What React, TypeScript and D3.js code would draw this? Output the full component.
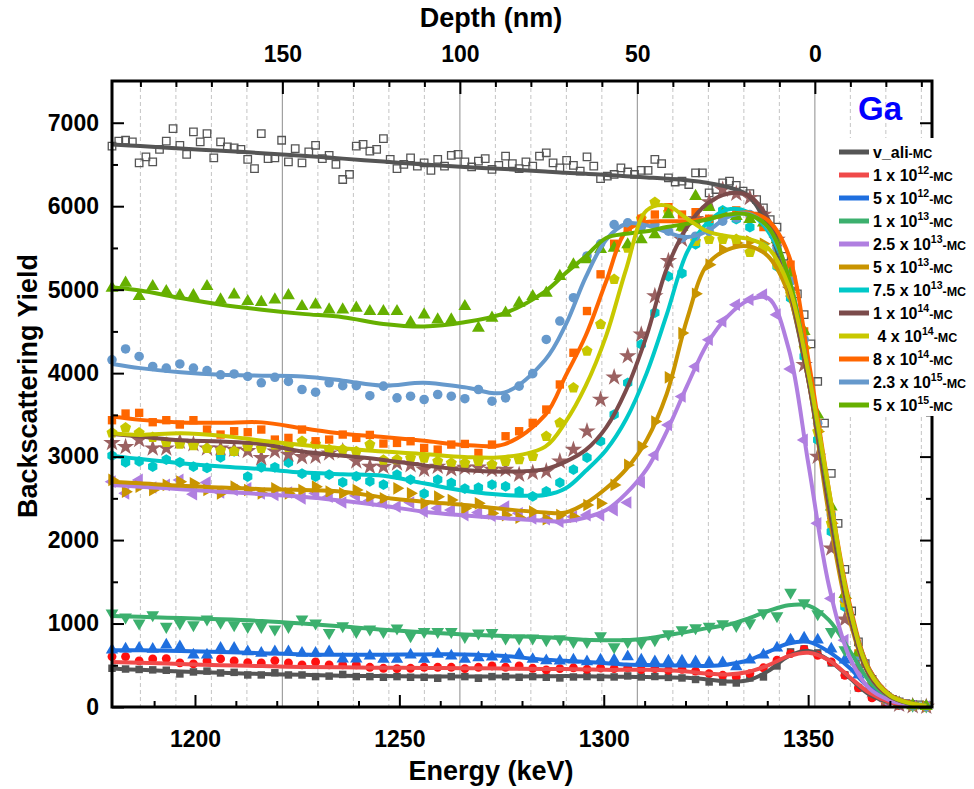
import React, { useEffect, useRef } from 'react';
import * as d3 from 'd3';

// energies (keV) where the MC curves are sampled
const lineEnergy = [1179.7, 1186.6, 1196.5, 1206.5, 1216.4, 1226.3, 1236.2, 1246.1, 1256.0, 1265.9, 1275.8, 1285.7, 1290.7, 1295.6, 1300.6, 1305.5, 1310.5, 1315.4, 1320.4, 1325.3, 1330.3, 1335.3, 1340.2, 1345.2, 1350.1, 1355.1, 1360.1, 1365.0, 1370.0, 1374.9, 1378.9];
// measured channels
const markerEnergy = d3.range(61).map(i => 1179.7 + 3.32 * i);
const randomEnergy = d3.range(121).map(i => 1179.7 + 1.66 * i);

// random spectrum (open squares) and its MC
const randomPoints = [6720, 6780, 6790, 6770, 6520, 6590, 6530, 6680, 6780, 6930, 6730, 6620, 6890, 6770, 6870, 6580, 6770, 6710, 6700, 6680, 6560, 6450, 6870, 6570, 6580, 6790, 6530, 6690, 6520, 6650, 6730, 6570, 6610, 6500, 6320, 6380, 6720, 6740, 6660, 6680, 6810, 6560, 6450,
  6500, 6580, 6480, 6520, 6430, 6560, 6480, 6610, 6620, 6530, 6470, 6540, 6570, 6440, 6490, 6600, 6510, 6450, 6530, 6480, 6600, 6640, 6520, 6460, 6550, 6490, 6420, 6590, 6480, 6330, 6360, 6380, 6460, 6410, 6380, 6430, 6430, 6560, 6510, 6340, 6290, 6300, 6260, 6400, 6400, 6160, 6200, 6280, 6300, 6250, 6180, 6150, 6080, 5980, 5840, 5750, 5400, 5150, 4950, 4700, 4350, 3900, 3400, 2800, 2200, 1650, 1150, 780, 520, 330, 210, 140, 90, 60, 40, 30, 25, 20];
const randomLine = [6740, 6720, 6690, 6665, 6635, 6605, 6570, 6535, 6500, 6470, 6445, 6415, 6400, 6390, 6375, 6360, 6345, 6330, 6310, 6280, 6230, 6130, 5750, 5000, 3900, 2500, 1200, 450, 150, 50, 20];

const alignedPoints = [464, 455, 450, 445, 440, 396, 420, 430, 408, 415, 384, 384, 410, 384, 384, 364, 370, 390, 364, 364, 356, 364, 356, 356, 344, 364, 364, 344, 364, 364, 356, 364, 356, 348, 360, 365, 355, 360, 372, 360, 365, 355, 348, 330, 300, 300, 288, 348, 360, 492, 660, 696, 648, 528, 384, 228, 120, 48, 20, 10, 5];
const alignedLine = [460, 445, 425, 410, 395, 385, 375, 370, 365, 365, 365, 368, 370, 368, 365, 362, 358, 355, 350, 330, 305, 320, 430, 610, 670, 560, 350, 150, 55, 20, 8];

const f1e12Points = [604, 604, 552, 576, 580, 528, 516, 552, 576, 552, 532, 528, 556, 528, 504, 540, 504, 504, 504, 476, 464, 460, 464, 476, 476, 476, 460, 476, 492, 476, 492, 464, 444, 460, 470, 452, 468, 460, 470, 448, 460, 440, 452, 430, 400, 380, 360, 400, 470, 560, 640, 690, 620, 540, 380, 230, 110, 45, 18, 8, 4];
const f1e12Line = [540, 530, 515, 500, 490, 480, 475, 470, 468, 465, 460, 455, 455, 450, 445, 445, 445, 440, 425, 400, 390, 420, 500, 610, 650, 560, 360, 170, 60, 20, 8];

const f5e12Points = [684, 696, 704, 692, 744, 724, 624, 624, 704, 704, 664, 644, 664, 664, 644, 644, 664, 576, 576, 612, 572, 572, 624, 572, 632, 612, 572, 592, 600, 572, 632, 572, 556, 552, 564, 544, 564, 564, 604, 564, 544, 552, 552, 544, 532, 532, 484, 564, 624, 708, 804, 828, 804, 696, 564, 384, 240, 110, 45, 18, 8];
const f5e12Line = [680, 680, 670, 660, 645, 630, 625, 625, 630, 630, 610, 565, 555, 540, 525, 510, 502, 498, 495, 492, 510, 560, 660, 760, 780, 660, 470, 230, 90, 30, 10];

const f1e13Points = [1124, 1076, 1004, 1104, 964, 1004, 984, 1052, 1012, 984, 964, 964, 932, 964, 1052, 1004, 892, 972, 904, 932, 904, 944, 852, 904, 904, 904, 844, 884, 892, 824, 824, 824, 804, 816, 784, 784, 852, 720, 784, 772, 804, 876, 924, 948, 964, 996, 976, 1008, 1128, 1092, 1372, 1248, 1116, 904, 684, 408, 288, 130, 50, 20, 10];
const f1e13Line = [1090, 1080, 1065, 1050, 1030, 1000, 965, 925, 895, 870, 850, 835, 820, 805, 800, 800, 820, 860, 900, 945, 985, 1060, 1150, 1220, 1215, 1040, 680, 310, 110, 35, 10];

const f25e13Points = [2700, 2560, 2720, 2630, 2660, 2720, 2550, 2690, 2570, 2600, 2620, 2560, 2540, 2570, 2500, 2560, 2520, 2450, 2530, 2470, 2440, 2400, 2450, 2340, 2380, 2360, 2300, 2330, 2290, 2400, 2320, 2260, 2250, 2220, 2280, 2300, 2300, 2360, 2450, 2690, 3020, 3380, 3720, 4080, 4400, 4620, 4820, 4880, 4940, 4700, 4050, 3200, 2200, 1300, 800, 420, 180, 70, 28, 12, 5];
const f25e13Line = [2660, 2640, 2610, 2580, 2550, 2520, 2470, 2410, 2340, 2295, 2260, 2230, 2225, 2270, 2360, 2560, 2850, 3300, 3850, 4350, 4680, 4870, 4900, 4300, 2900, 1450, 600, 220, 80, 25, 8];

const f5e13Points = [2720, 2580, 2640, 2600, 2660, 2700, 2680, 2600, 2560, 2640, 2600, 2560, 2620, 2560, 2600, 2640, 2580, 2560, 2600, 2520, 2500, 2620, 2560, 2440, 2520, 2480, 2380, 2440, 2320, 2300, 2270, 2340, 2250, 2300, 2280, 2420, 2440, 2660, 2900, 3120, 3420, 3950, 4480, 4950, 5300, 5480, 5560, 5580, 5550, 5400, 5000, 4300, 3300, 2200, 1300, 620, 260, 100, 40, 15, 6];
const f5e13Line = [2700, 2680, 2650, 2630, 2610, 2600, 2580, 2510, 2460, 2420, 2370, 2330, 2330, 2440, 2620, 2850, 3200, 3750, 4650, 5300, 5480, 5520, 5400, 4950, 3900, 2300, 1050, 380, 125, 40, 12];

const f75e13Points = [3012, 2932, 2944, 2880, 2964, 2932, 2880, 2864, 2992, 3064, 2760, 2872, 2872, 2928, 2796, 2760, 2784, 2692, 2764, 2704, 2664, 2784, 2724, 2556, 2724, 2684, 2616, 2628, 2664, 2644, 2584, 2524, 2584, 2688, 2844, 2988, 3184, 3504, 3884, 4344, 4724, 5160, 5196, 5544, 5800, 5950, 5844, 5748, 5508, 5280, 4900, 4200, 3200, 2100, 1200, 600, 250, 100, 40, 15, 6];
const f75e13Line = [3010, 2970, 2920, 2880, 2850, 2810, 2790, 2770, 2680, 2590, 2540, 2540, 2620, 2830, 3080, 3450, 4000, 4700, 5450, 5800, 5960, 5930, 5700, 5150, 4000, 2500, 1150, 400, 130, 45, 12];

const f1e14Points = [3164, 3116, 3200, 3100, 3100, 3180, 3150, 3100, 3100, 3084, 3068, 2984, 3064, 3024, 2996, 3000, 3040, 3064, 2944, 2880, 2880, 2920, 2900, 2844, 2880, 2850, 2868, 2870, 2844, 2844, 2784, 2808, 2824, 2944, 3084, 3304, 3684, 3950, 4204, 4464, 4924, 5344, 5600, 5850, 6050, 6200, 6150, 6100, 5900, 5600, 5000, 4100, 3000, 1900, 1050, 480, 200, 80, 30, 12, 5];
const f1e14Line = [3270, 3240, 3195, 3180, 3150, 3060, 3010, 2960, 2895, 2840, 2820, 2850, 2940, 3080, 3350, 3800, 4450, 5250, 5750, 6030, 6150, 6130, 5850, 5050, 3900, 2400, 1100, 380, 125, 40, 12];

const f4e14Points = [3284, 3344, 3284, 3230, 3172, 3150, 3132, 3100, 3076, 3064, 3120, 3100, 3140, 3110, 3184, 3150, 3084, 3084, 3060, 3144, 2960, 2964, 2984, 2984, 2944, 2924, 2924, 2944, 2904, 2944, 2964, 3004, 3244, 3404, 3824, 4264, 4584, 5124, 5500, 5850, 6048, 5928, 5750, 5580, 5604, 5604, 5604, 5448, 5500, 5300, 4950, 4300, 3300, 2200, 1250, 620, 260, 100, 40, 15, 6];
const f4e14Line = [3280, 3260, 3280, 3250, 3190, 3140, 3100, 3060, 3030, 2995, 2995, 3120, 3420, 3850, 4450, 5250, 5950, 6010, 5850, 5700, 5640, 5610, 5500, 5050, 4000, 2600, 1200, 420, 140, 45, 15];

const f8e14Points = [3436, 3516, 3524, 3412, 3436, 3384, 3436, 3324, 3264, 3304, 3292, 3324, 3204, 3224, 3324, 3184, 3204, 3264, 3224, 3260, 3156, 3164, 3184, 3104, 3084, 3144, 3152, 3044, 3144, 3244, 3304, 3404, 3564, 3864, 4244, 4744, 5184, 5550, 5750, 5850, 5900, 5988, 5900, 5928, 5850, 5880, 5950, 5850, 5750, 5604, 5300, 4500, 3400, 2300, 1300, 640, 260, 100, 40, 15, 6];
const f8e14Line = [3480, 3440, 3410, 3405, 3410, 3340, 3275, 3235, 3190, 3140, 3150, 3500, 3970, 4450, 5100, 5700, 5810, 5820, 5820, 5850, 5890, 5925, 5830, 5420, 4150, 2600, 1250, 450, 150, 50, 15];

const f23e15Points = [4160, 4290, 4200, 4080, 4060, 4110, 4060, 4030, 3980, 3990, 3960, 3884, 3950, 3900, 3804, 3772, 3884, 3850, 3850, 3730, 3844, 3704, 3724, 3684, 3744, 3724, 3694, 3804, 3664, 3704, 3844, 3994, 4404, 4624, 4904, 5404, 5550, 5780, 5800, 5750, 5780, 5700, 5620, 5640, 5700, 5820, 5860, 5900, 5820, 5500, 5100, 4400, 3400, 2300, 1300, 620, 260, 100, 40, 15, 6];
const f23e15Line = [4110, 4060, 4010, 3980, 3970, 3960, 3910, 3850, 3885, 3830, 3770, 4160, 4580, 5150, 5600, 5790, 5770, 5690, 5630, 5700, 5870, 5910, 5740, 5150, 4000, 2550, 1200, 430, 140, 45, 15];

const f5e15Points = [5020, 5080, 4920, 5040, 4980, 4930, 4930, 5040, 4880, 4940, 4860, 4850, 4880, 4930, 4800, 4820, 4760, 4760, 4780, 4740, 4740, 4740, 4608, 4700, 4640, 4640, 4800, 4540, 4660, 4720, 4840, 4920, 4960, 5160, 5300, 5360, 5484, 5500, 5540, 5600, 5660, 5900, 5750, 6120, 5988, 5900, 5880, 5844, 5800, 5600, 5200, 4500, 3500, 2400, 1350, 650, 270, 110, 45, 18, 8];
const f5e15Line = [5030, 4990, 4900, 4820, 4760, 4710, 4670, 4590, 4560, 4610, 4720, 4980, 5200, 5400, 5620, 5670, 5700, 5750, 5790, 5840, 5900, 5900, 5750, 5150, 4000, 2550, 1200, 430, 140, 45, 15];

const energyTicks = [1200, 1250, 1300, 1350];
const depthTicks = [150, 100, 50, 0];
const yieldTicks = [0, 1000, 2000, 3000, 4000, 5000, 6000, 7000];

type Series = { name: string; sup: string; color: string; markerColor: string; shape: string; size: number; line: number[]; points: number[] };

// legend order
const series: Series[] = [
  { name: 'v_ali', sup: '', color: '#555555', markerColor: '#555555', shape: 'square', size: 56, line: alignedLine, points: alignedPoints },
  { name: '1 x 10', sup: '12', color: '#f04a4a', markerColor: '#ff1010', shape: 'circle', size: 62, line: f1e12Line, points: f1e12Points },
  { name: '5 x 10', sup: '12', color: '#1f6fdf', markerColor: '#1f6fdf', shape: 'triangle', size: 66, line: f5e12Line, points: f5e12Points },
  { name: '1 x 10', sup: '13', color: '#3cb06e', markerColor: '#3cb06e', shape: 'triangleDown', size: 70, line: f1e13Line, points: f1e13Points },
  { name: '2.5 x 10', sup: '13', color: '#b07fe0', markerColor: '#b07fe0', shape: 'triangleLeft', size: 70, line: f25e13Line, points: f25e13Points },
  { name: '5 x 10', sup: '13', color: '#c99400', markerColor: '#c99400', shape: 'triangleRight', size: 70, line: f5e13Line, points: f5e13Points },
  { name: '7.5 x 10', sup: '13', color: '#00c8c8', markerColor: '#00c8c8', shape: 'hexagon', size: 75, line: f75e13Line, points: f75e13Points },
  { name: '1 x 10', sup: '14', color: '#7b4b4b', markerColor: '#9b6262', shape: 'star', size: 95, line: f1e14Line, points: f1e14Points },
  { name: ' 4 x 10', sup: '14', color: '#c8c800', markerColor: '#c8c800', shape: 'pentagon', size: 80, line: f4e14Line, points: f4e14Points },
  { name: '8 x 10', sup: '14', color: '#ff6600', markerColor: '#ff6600', shape: 'square', size: 70, line: f8e14Line, points: f8e14Points },
  { name: '2.3 x 10', sup: '15', color: '#6699cc', markerColor: '#6699cc', shape: 'circle', size: 72, line: f23e15Line, points: f23e15Points },
  { name: '5 x 10', sup: '15', color: '#66b000', markerColor: '#66b000', shape: 'triangle', size: 72, line: f5e15Line, points: f5e15Points },
];

const font = 'Liberation Sans, Arial, Helvetica, sans-serif';
const plot = { left: 112, right: 932, top: 81, bottom: 707 };

const hexagon = {
  draw(ctx: any, size: number) {
    const r = Math.sqrt(size / 2.598);
    for (let k = 0; k < 6; k++) {
      const a = (Math.PI / 3) * k + Math.PI / 6;
      if (k === 0) ctx.moveTo(r * Math.cos(a), r * Math.sin(a));
      else ctx.lineTo(r * Math.cos(a), r * Math.sin(a));
    }
    ctx.closePath();
  },
};
const pentagon = {
  draw(ctx: any, size: number) {
    const r = Math.sqrt(size / 2.378);
    for (let k = 0; k < 5; k++) {
      const a = -Math.PI / 2 + (2 * Math.PI / 5) * k;
      if (k === 0) ctx.moveTo(r * Math.cos(a), r * Math.sin(a));
      else ctx.lineTo(r * Math.cos(a), r * Math.sin(a));
    }
    ctx.closePath();
  },
};

const shapes: Record<string, { type: any; rotate: number }> = {
  square: { type: d3.symbolSquare, rotate: 0 },
  circle: { type: d3.symbolCircle, rotate: 0 },
  triangle: { type: d3.symbolTriangle, rotate: 0 },
  triangleDown: { type: d3.symbolTriangle, rotate: 180 },
  triangleLeft: { type: d3.symbolTriangle, rotate: -90 },
  triangleRight: { type: d3.symbolTriangle, rotate: 90 },
  hexagon: { type: hexagon, rotate: 0 },
  pentagon: { type: pentagon, rotate: 0 },
  star: { type: d3.symbolStar, rotate: 0 },
};

const App = () => {
  const svgRef = useRef<SVGSVGElement>(null);

  useEffect(() => {
    const svg = d3.select(svgRef.current);
    svg.selectAll('*').remove();

    const x = d3.scaleLinear().domain([1179.7, 1380.3]).range([plot.left, plot.right]);
    const depth = d3.scaleLinear().domain([198, -33]).range([plot.left, plot.right]);
    const y = d3.scaleLinear().domain([0, 7500]).range([plot.bottom, plot.top]);

    svg.append('defs').append('clipPath').attr('id', 'plot-clip')
      .append('rect')
      .attr('x', plot.left).attr('y', plot.top)
      .attr('width', plot.right - plot.left).attr('height', plot.bottom - plot.top);

    // grid from the depth axis
    const minorDepth = d3.range(190, -31, -10).filter(d => d % 50 !== 0);
    svg.append('g').selectAll('line')
      .data(minorDepth)
      .enter().append('line')
      .attr('x1', d => depth(d)).attr('x2', d => depth(d))
      .attr('y1', plot.top).attr('y2', plot.bottom)
      .attr('stroke', '#c4c4c4')
      .attr('stroke-dasharray', '4,3');
    svg.append('g').selectAll('line')
      .data(depthTicks)
      .enter().append('line')
      .attr('x1', d => depth(d)).attr('x2', d => depth(d))
      .attr('y1', plot.top).attr('y2', plot.bottom)
      .attr('stroke', '#a0a0a0')
      .attr('stroke-width', 1.2);

    // experimental points
    svg.append('g').selectAll('path')
      .data(randomPoints)
      .enter().append('path')
      .attr('d', d3.symbol().type(d3.symbolSquare).size(56)())
      .attr('transform', (d, i) => `translate(${x(randomEnergy[i])},${y(d)})`)
      .attr('fill', 'none')
      .attr('stroke', '#555555')
      .attr('stroke-width', 1.3);

    series.forEach(s => {
      const shape = shapes[s.shape];
      svg.append('g').selectAll('path')
        .data(s.points)
        .enter().append('path')
        .attr('d', d3.symbol().type(shape.type).size(s.size)())
        .attr('transform', (d, i) => `translate(${x(markerEnergy[i])},${y(d)}) rotate(${shape.rotate})`)
        .attr('fill', s.markerColor);
    });

    // MC curves
    const line = d3.line<number>()
      .x((d, i) => x(lineEnergy[i]))
      .y(d => y(d))
      .curve(d3.curveCatmullRom.alpha(0.5));

    const curves = svg.append('g').attr('clip-path', 'url(#plot-clip)');
    curves.append('path')
      .attr('d', line(randomLine))
      .attr('fill', 'none')
      .attr('stroke', '#555555')
      .attr('stroke-width', 4);
    const drawOrder = [0, 1, 2, 3, 4, 5, 6, 7, 9, 10, 11, 8];
    drawOrder.forEach(k => {
      curves.append('path')
        .attr('d', line(series[k].line))
        .attr('fill', 'none')
        .attr('stroke', series[k].color)
        .attr('stroke-width', 4)
        .attr('stroke-linejoin', 'round');
    });

    // axes
    const styleAxis = (g: any) => {
      g.select('.domain').remove();
      g.selectAll('line').attr('stroke', '#000').attr('stroke-width', 2);
      g.selectAll('text')
        .attr('font-family', font)
        .attr('font-weight', 'bold')
        .attr('font-size', 23)
        .attr('fill', '#000');
    };

    const minorEnergy = d3.range(1190, 1380, 10).filter(d => d % 50 !== 0);
    const minorYield = d3.range(500, 7500, 1000);

    svg.append('g').attr('transform', `translate(0,${plot.bottom})`)
      .call(d3.axisBottom(x).tickValues(energyTicks).tickSizeInner(-12).tickSizeOuter(0).tickPadding(24).tickFormat(d3.format('d')))
      .call(styleAxis);
    svg.append('g').attr('transform', `translate(0,${plot.bottom})`)
      .call(d3.axisBottom(x).tickValues(minorEnergy).tickSizeInner(-6).tickSizeOuter(0).tickFormat(() => ''))
      .call(styleAxis);

    svg.append('g').attr('transform', `translate(0,${plot.top})`)
      .call(d3.axisTop(depth).tickValues(depthTicks).tickSizeInner(-13).tickSizeOuter(0).tickPadding(19).tickFormat(d3.format('d')))
      .call(styleAxis);
    svg.append('g').attr('transform', `translate(0,${plot.top})`)
      .call(d3.axisTop(depth).tickValues(minorDepth).tickSizeInner(-6).tickSizeOuter(0).tickFormat(() => ''))
      .call(styleAxis);

    svg.append('g').attr('transform', `translate(${plot.left},0)`)
      .call(d3.axisLeft(y).tickValues(yieldTicks).tickSizeInner(-12).tickSizeOuter(0).tickPadding(13).tickFormat(d3.format('d')))
      .call(styleAxis);
    svg.append('g').attr('transform', `translate(${plot.left},0)`)
      .call(d3.axisLeft(y).tickValues(minorYield).tickSizeInner(-6).tickSizeOuter(0).tickFormat(() => ''))
      .call(styleAxis);

    svg.append('g').attr('transform', `translate(${plot.right},0)`)
      .call(d3.axisRight(y).tickValues(yieldTicks).tickSizeInner(-12).tickSizeOuter(0).tickFormat(() => ''))
      .call(styleAxis);
    svg.append('g').attr('transform', `translate(${plot.right},0)`)
      .call(d3.axisRight(y).tickValues(minorYield).tickSizeInner(-6).tickSizeOuter(0).tickFormat(() => ''))
      .call(styleAxis);

    svg.append('rect')
      .attr('x', plot.left).attr('y', plot.top)
      .attr('width', plot.right - plot.left).attr('height', plot.bottom - plot.top)
      .attr('fill', 'none')
      .attr('stroke', '#000')
      .attr('stroke-width', 3);

    // titles
    svg.append('text')
      .attr('x', 491).attr('y', 27)
      .attr('text-anchor', 'middle')
      .attr('font-family', font).attr('font-weight', 'bold').attr('font-size', 27)
      .text('Depth (nm)');
    svg.append('text')
      .attr('x', 491).attr('y', 780)
      .attr('text-anchor', 'middle')
      .attr('font-family', font).attr('font-weight', 'bold').attr('font-size', 27)
      .text('Energy (keV)');
    svg.append('text')
      .attr('transform', 'translate(37,386) rotate(-90)')
      .attr('text-anchor', 'middle')
      .attr('font-family', font).attr('font-weight', 'bold').attr('font-size', 27)
      .text('Backscattering Yield');

    svg.append('text')
      .attr('x', 858).attr('y', 120)
      .attr('font-family', font).attr('font-weight', 'bold').attr('font-size', 33)
      .attr('fill', '#0000ff')
      .text('Ga');

    // legend
    const legend = svg.append('g');
    legend.append('rect')
      .attr('x', 833).attr('y', 138)
      .attr('width', 141).attr('height', 278)
      .attr('fill', '#fff');
    series.forEach((s, i) => {
      const ly = 152 + i * 23;
      legend.append('line')
        .attr('x1', 839).attr('x2', 869)
        .attr('y1', ly).attr('y2', ly)
        .attr('stroke', s.color)
        .attr('stroke-width', 5);
      const t = legend.append('text')
        .attr('x', 873).attr('y', ly + 6)
        .attr('font-family', font).attr('font-weight', 'bold').attr('font-size', 16)
        .attr('fill', '#000')
        .style('white-space', 'pre');
      t.append('tspan').text(s.name);
      if (s.sup) {
        t.append('tspan').attr('font-size', 10.5).attr('dy', -7).text(s.sup);
        t.append('tspan').attr('font-size', 12.5).attr('dy', 7).text('-MC');
      } else {
        t.append('tspan').attr('font-size', 12.5).text('-MC');
      }
    });
  }, []);

  return (
    <svg
      ref={svgRef}
      width={974}
      height={789}
      style={{ position: 'absolute', left: 0, top: 0, background: '#fff' }}
    />
  );
};

export default App;
